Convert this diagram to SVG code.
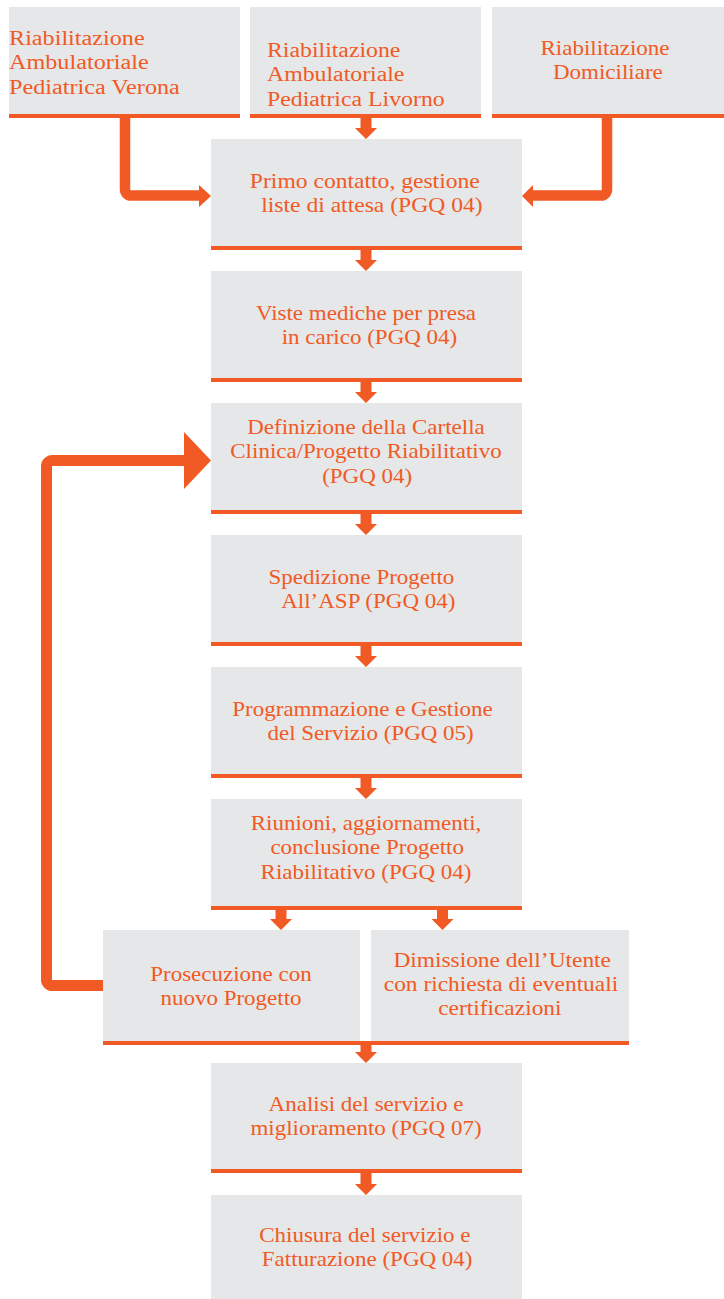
<svg xmlns="http://www.w3.org/2000/svg" width="724" height="1299" viewBox="0 0 724 1299">
<defs>
<style>
.box{fill:#E6E7E8}
.bar{fill:#F15A24}
.t{font-family:"Liberation Serif","Times New Roman",serif;font-size:20px;fill:#F15A24;text-anchor:middle}
.tl{text-anchor:start}
.ln{fill:none;stroke:#F15A24}
.ah{fill:#F15A24}
</style>
</defs>
<rect width="724" height="1299" fill="#FFFFFF"/>

<g id="node-verona">
<rect class="box" x="9" y="7" width="231" height="107"/>
<rect class="bar" x="9" y="114" width="231" height="4"/>
<text class="t tl" transform="matrix(1.21 0 0 1 9 0)"><tspan x="0" y="45">Riabilitazione</tspan><tspan x="0" y="69">Ambulatoriale</tspan><tspan x="0" y="94">Pediatrica Verona</tspan></text>
</g>
<g id="node-livorno">
<rect class="box" x="250" y="7" width="231" height="107"/>
<rect class="bar" x="250" y="114" width="231" height="4"/>
<text class="t tl" transform="matrix(1.19 0 0 1 267 0)"><tspan x="0" y="57">Riabilitazione</tspan><tspan x="0" y="81">Ambulatoriale</tspan><tspan x="0" y="106">Pediatrica Livorno</tspan></text>
</g>
<g id="node-domiciliare">
<rect class="box" x="492" y="7" width="232" height="107"/>
<rect class="bar" x="492" y="114" width="232" height="4"/>
<text class="t" transform="matrix(1.15 0 0 1 605 0)"><tspan x="0" y="55">Riabilitazione</tspan><tspan x="2.5" y="79">Domiciliare</tspan></text>
</g>

<g id="node-primo">
<rect class="box" x="211" y="139" width="311" height="107"/>
<rect class="bar" x="211" y="246" width="311" height="4"/>
<text class="t" transform="matrix(1.18 0 0 1 366 0)"><tspan x="-1" y="188">Primo contatto, gestione</tspan><tspan x="5" y="212">liste di attesa (PGQ 04)</tspan></text>
</g>
<g id="node-viste">
<rect class="box" x="211" y="271" width="311" height="107"/>
<rect class="bar" x="211" y="378" width="311" height="4"/>
<text class="t" transform="matrix(1.15 0 0 1 366 0)"><tspan x="0" y="320">Viste mediche per presa</tspan><tspan x="3" y="344">in carico (PGQ 04)</tspan></text>
</g>
<g id="node-definizione">
<rect class="box" x="211" y="403" width="311" height="107"/>
<rect class="bar" x="211" y="510" width="311" height="4"/>
<text class="t" transform="matrix(1.15 0 0 1 366 0)"><tspan x="0" y="434">Definizione della Cartella</tspan><tspan x="0" y="458">Clinica/Progetto Riabilitativo</tspan><tspan x="1" y="483">(PGQ 04)</tspan></text>
</g>
<g id="node-spedizione">
<rect class="box" x="211" y="535" width="311" height="107"/>
<rect class="bar" x="211" y="642" width="311" height="4"/>
<text class="t" transform="matrix(1.15 0 0 1 366 0)"><tspan x="-4" y="584">Spedizione Progetto</tspan><tspan x="2" y="608">All’ASP (PGQ 04)</tspan></text>
</g>
<g id="node-programmazione">
<rect class="box" x="211" y="667" width="311" height="107"/>
<rect class="bar" x="211" y="774" width="311" height="4"/>
<text class="t" transform="matrix(1.15 0 0 1 366 0)"><tspan x="-3" y="716">Programmazione e Gestione</tspan><tspan x="4" y="740">del Servizio (PGQ 05)</tspan></text>
</g>
<g id="node-riunioni">
<rect class="box" x="211" y="799" width="311" height="107"/>
<rect class="bar" x="211" y="906" width="311" height="4"/>
<text class="t" transform="matrix(1.15 0 0 1 366 0)"><tspan x="0" y="830">Riunioni, aggiornamenti,</tspan><tspan x="1" y="854">conclusione Progetto</tspan><tspan x="0" y="879">Riabilitativo (PGQ 04)</tspan></text>
</g>
<g id="node-prosecuzione">
<rect class="box" x="103" y="930" width="257" height="111"/>
<text class="t" transform="matrix(1.15 0 0 1 231 0)"><tspan x="0" y="981">Prosecuzione con</tspan><tspan x="0" y="1005">nuovo Progetto</tspan></text>
</g>
<g id="node-dimissione">
<rect class="box" x="371" y="930" width="258" height="111"/>
<text class="t" transform="matrix(1.17 0 0 1 501 0)"><tspan x="1" y="967">Dimissione dell’Utente</tspan><tspan x="0" y="991">con richiesta di eventuali</tspan><tspan x="-1" y="1015">certificazioni</tspan></text>
</g>
<rect id="bar-row" class="bar" x="103" y="1041" width="526" height="4"/>
<g id="node-analisi">
<rect class="box" x="211" y="1063" width="311" height="106"/>
<rect class="bar" x="211" y="1169" width="311" height="4"/>
<text class="t" transform="matrix(1.15 0 0 1 366 0)"><tspan x="0" y="1111">Analisi del servizio e</tspan><tspan x="0" y="1135">miglioramento (PGQ 07)</tspan></text>
</g>
<g id="node-chiusura">
<rect class="box" x="211" y="1195" width="311" height="104"/>
<text class="t" transform="matrix(1.15 0 0 1 366 0)"><tspan x="-1" y="1242">Chiusura del servizio e</tspan><tspan x="1" y="1266">Fatturazione (PGQ 04)</tspan></text>
</g>

<g id="connectors">
<path class="ln" stroke-width="10.5" d="M125 118 V189 A6 6 0 0 0 131 195.5 H200"/>
<polygon class="ah" points="199,185 211,196 199,207"/>
<path class="ln" stroke-width="10.5" d="M607 118 V189 A6 6 0 0 1 601 195.5 H531"/>
<polygon class="ah" points="533,185 522,196 533,207"/>
<path class="ln" stroke-width="11" d="M103 985.5 H53 A6 6 0 0 1 46.5 979 V467 A6 6 0 0 1 53 460.5 H185"/>
<polygon class="ah" points="184,432 211,460.5 184,489"/>
<path class="ah" d="M360.5 118 h11 v10 h5.5 l-11 11 l-11 -11 h5.5 z"/>
<path class="ah" d="M360.5 250 h11 v10 h5.5 l-11 11 l-11 -11 h5.5 z"/>
<path class="ah" d="M360.5 382 h11 v10 h5.5 l-11 11 l-11 -11 h5.5 z"/>
<path class="ah" d="M360.5 514 h11 v10 h5.5 l-11 11 l-11 -11 h5.5 z"/>
<path class="ah" d="M360.5 646 h11 v10 h5.5 l-11 11 l-11 -11 h5.5 z"/>
<path class="ah" d="M360.5 778 h11 v10 h5.5 l-11 11 l-11 -11 h5.5 z"/>
<path class="ah" d="M275.5 910 h11 v9 h5.5 l-11 11 l-11 -11 h5.5 z"/>
<path class="ah" d="M437 910 h11 v9 h5.5 l-11 11 l-11 -11 h5.5 z"/>
<path class="ah" d="M360.5 1045 h11 v7 h5.5 l-11 11 l-11 -11 h5.5 z"/>
<path class="ah" d="M360.5 1173 h11 v11 h5.5 l-11 11 l-11 -11 h5.5 z"/>
</g>
</svg>
